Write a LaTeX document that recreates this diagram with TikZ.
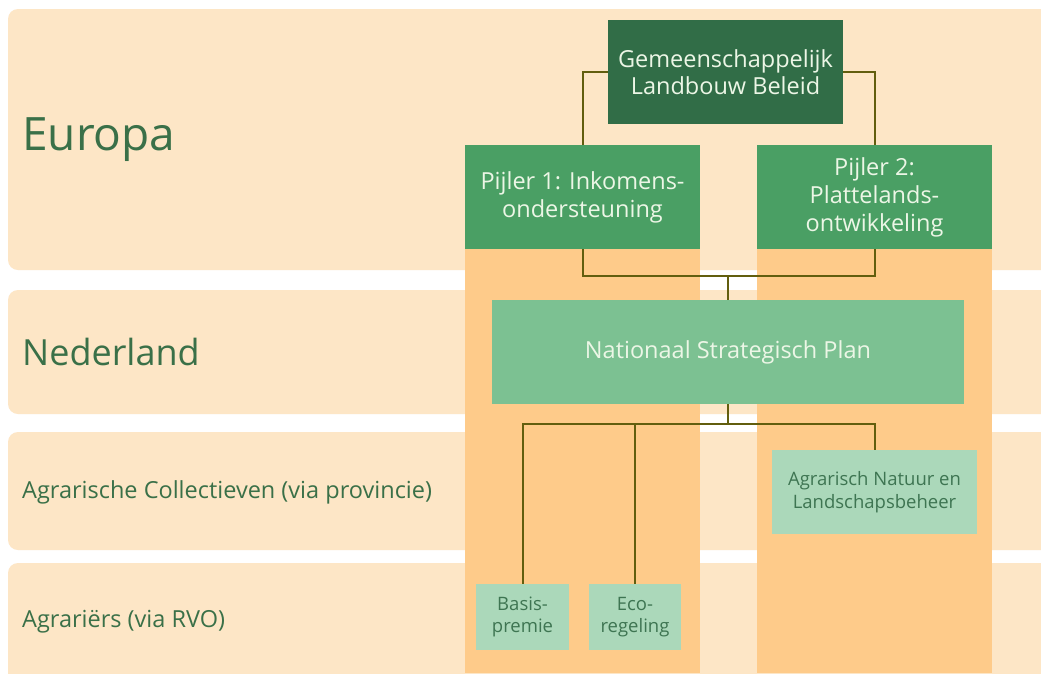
\documentclass[tikz,border=0pt]{standalone}
\usepackage{fontspec}
\setmainfont{Open Sans}
\usetikzlibrary{calc}
\definecolor{band}{RGB}{253,230,198}
\definecolor{column}{RGB}{254,203,138}
\definecolor{darkgreen}{RGB}{49,109,71}
\definecolor{midgreen}{RGB}{74,159,100}
\definecolor{lightgreen}{RGB}{124,193,146}
\definecolor{palegreen}{RGB}{171,216,186}
\definecolor{connector}{RGB}{98,94,14}
\definecolor{labelgreen}{RGB}{58,112,72}
\definecolor{boxtext}{RGB}{236,246,230}
\definecolor{smalltext}{RGB}{62,117,82}
\tikzset{
  bandbox/.style={fill=band, draw=none},
  colbox/.style={fill=column, draw=none},
  bandlabel/.style={anchor=west, inner sep=0pt, text=labelgreen},
  glbbox/.style={fill=darkgreen, text=boxtext, align=center, inner sep=0pt, font=\fontsize{23.5}{27.5}\selectfont},
  pijlerbox/.style={fill=midgreen, text=boxtext, align=center, inner sep=0pt, font=\fontsize{23.5}{28}\selectfont},
  nspbox/.style={fill=lightgreen, text=boxtext, align=center, inner sep=0pt, font=\fontsize{23.5}{28}\selectfont},
  smallbox/.style={fill=palegreen, text=smalltext, align=center, inner sep=0pt, font=\fontsize{18.5}{22.5}\selectfont},
  link/.style={draw=connector, line width=2pt},
}
\begin{document}
\begin{tikzpicture}[x=1pt,y=-1pt]
\useasboundingbox (0,0) rectangle (1041,673);
\fill[white] (0,0) rectangle (1041,673);
% bands
\fill[bandbox, rounded corners=10pt] (8,9) rectangle (1060,270);
\fill[bandbox, rounded corners=10pt] (8,290) rectangle (1060,414);
\fill[bandbox, rounded corners=10pt] (8,432) rectangle (1060,550);
\fill[bandbox, rounded corners=10pt] (8,563) rectangle (1060,700);
% columns
\fill[colbox] (465,145) rectangle (700,673);
\fill[colbox] (757,145) rectangle (992,673);
% band labels
\node[bandlabel, font=\fontsize{46}{52}\selectfont] (eu) at (22,140) {Europa};
\node[bandlabel, font=\fontsize{36}{42}\selectfont] (nl) at (22,352) {Nederland};
\node[bandlabel, font=\fontsize{23.5}{28}\selectfont] (ac) at (22,492) {Agrarische Collectieven (via provincie)};
\node[bandlabel, font=\fontsize{23.5}{28}\selectfont] (ag) at (22,622) {Agrariërs (via RVO)};
% boxes
\node[glbbox, minimum width=235pt, minimum height=104pt] (glb) at (725.5,72) {Gemeenschappelijk\\Landbouw Beleid};
\node[pijlerbox, minimum width=235pt, minimum height=104pt] (p1) at (582.5,197) {Pijler 1: Inkomens-\\ondersteuning};
\node[pijlerbox, minimum width=235pt, minimum height=104pt] (p2) at (874.5,197) {Pijler 2:\\Plattelands-\\ontwikkeling};
\node[nspbox, minimum width=472pt, minimum height=104pt] (nsp) at (728,352) {Nationaal Strategisch Plan};
\node[smallbox, minimum width=205pt, minimum height=84pt] (anl) at (874.5,492) {Agrarisch Natuur en\\Landschapsbeheer};
\node[smallbox, minimum width=93pt, minimum height=66pt] (basis) at (522.5,617) {Basis-\\premie};
\node[smallbox, minimum width=92pt, minimum height=66pt] (eco) at (635,617) {Eco-\\regeling};
% junctions
\coordinate (j1) at (728,276);
\coordinate (j2) at (728,424);
% connectors
\draw[link] (glb.west) -| (p1.north);
\draw[link] (glb.east) -| (p2.north);
\draw[link] (p1.south) |- (j1) -| (p2.south);
\draw[link] (j1) -- (nsp.north);
\draw[link] (nsp.south) -- (j2);
\draw[link] (basis.north) |- (j2) -| (anl.north);
\draw[link] (eco.north) -- (eco.north |- j2);
\end{tikzpicture}
\end{document}
